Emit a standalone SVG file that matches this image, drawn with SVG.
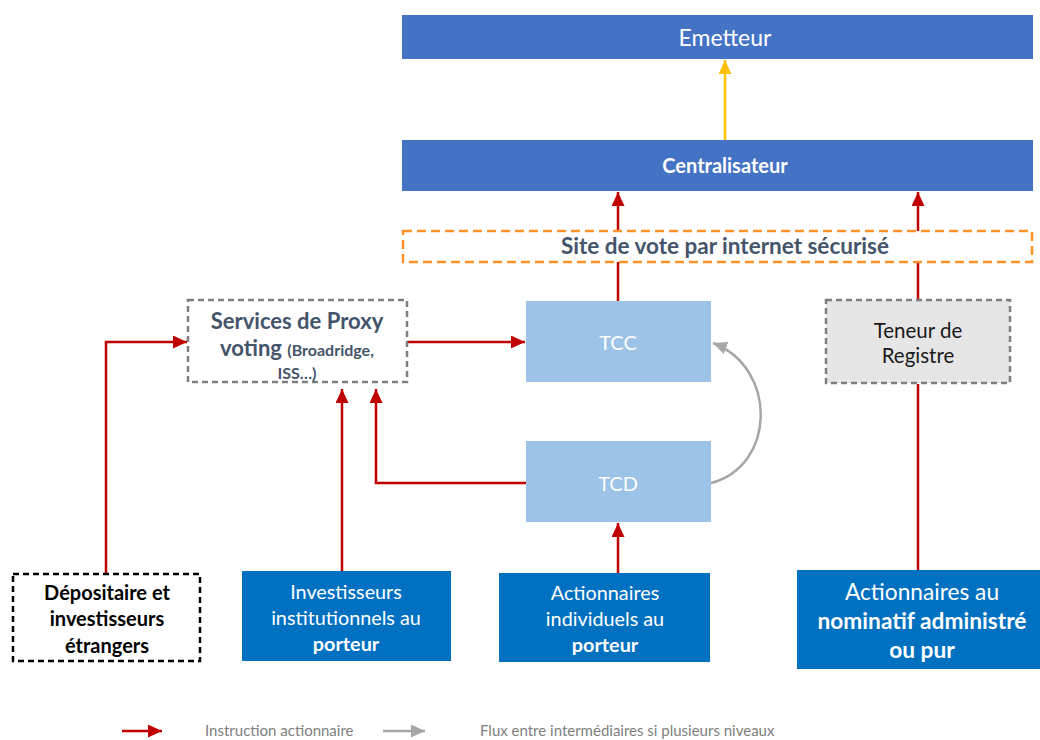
<svg xmlns="http://www.w3.org/2000/svg" width="1040" height="740" viewBox="0 0 1040 740">
<defs>
<style>
text{font-family:Lato,"Liberation Sans",sans-serif;text-anchor:middle}
.hdr{fill:#4472C4}
.tc{fill:#9DC3E6}
.inv{fill:#0070C0}
.w{fill:#ffffff}
.b{font-weight:bold}
.dk{fill:#44546A}
.red{stroke:#C00000;stroke-width:2.5;fill:none}
.gray{stroke:#A6A6A6;stroke-width:2.5;fill:none}
.yel{stroke:#FFC000;stroke-width:2.5;fill:none}
.leg{fill:#808080;font-size:15px;text-anchor:start}
</style>
<marker id="ar" markerUnits="userSpaceOnUse" markerWidth="14" markerHeight="13" refX="14" refY="6.5" orient="auto"><path d="M0,0 L14,6.5 L0,13 z" fill="#C00000"/></marker>
<marker id="ag" markerUnits="userSpaceOnUse" markerWidth="14" markerHeight="13" refX="14" refY="6.5" orient="auto"><path d="M0,0 L14,6.5 L0,13 z" fill="#A6A6A6"/></marker>
<marker id="ay" markerUnits="userSpaceOnUse" markerWidth="14" markerHeight="13" refX="14" refY="6.5" orient="auto"><path d="M0,0 L14,6.5 L0,13 z" fill="#FFC000"/></marker>
</defs>

<g id="connectors">
<path class="yel" d="M725,140 V60" marker-end="url(#ay)"/>
<path class="red" d="M618,301 V192" marker-end="url(#ar)"/>
<path class="red" d="M918,300 V192" marker-end="url(#ar)"/>
<path class="red" d="M407,342 H525" marker-end="url(#ar)"/>
<path class="red" d="M106,574 V342 H187" marker-end="url(#ar)"/>
<path class="red" d="M342,571 V389" marker-end="url(#ar)"/>
<path class="red" d="M526,483 H376 V389" marker-end="url(#ar)"/>
<path class="red" d="M618,573 V523" marker-end="url(#ar)"/>
<path class="red" d="M918,570 V384"/>
<path class="gray" d="M711,483 C776,466 778,368 713,343" marker-end="url(#ag)"/>
</g>

<g id="emetteur">
<rect class="hdr" x="402" y="15" width="631" height="44"/>
<text class="w" x="725" y="46" font-size="23">Emetteur</text>
</g>

<g id="centralisateur">
<rect class="hdr" x="402" y="140" width="631" height="51"/>
<text class="w b" x="725" y="173" font-size="20">Centralisateur</text>
</g>

<g id="site-vote">
<rect x="403" y="231" width="629" height="31" fill="#ffffff" stroke="#FF9328" stroke-width="2.5" stroke-dasharray="9,5"/>
<text class="dk b" x="725" y="254" font-size="22.5">Site de vote par internet sécurisé</text>
</g>

<g id="proxy">
<rect x="188" y="300" width="219" height="82" fill="#ffffff" stroke="#7F7F7F" stroke-width="2.5" stroke-dasharray="6,4"/>
<text class="dk b" x="297" y="329" font-size="22">Services de Proxy</text>
<text class="dk b" x="297" y="356" font-size="22">voting <tspan font-size="16">(Broadridge,</tspan></text>
<text class="dk b" x="297" y="379" font-size="16">ISS…)</text>
</g>

<g id="tcc">
<rect class="tc" x="526" y="301" width="185" height="81"/>
<text class="w" x="618" y="350" font-size="20">TCC</text>
</g>

<g id="tcd">
<rect class="tc" x="526" y="441" width="185" height="81"/>
<text class="w" x="618" y="491" font-size="20">TCD</text>
</g>

<g id="teneur">
<rect x="826" y="300" width="184" height="83" fill="#E7E6E6" stroke="#7F7F7F" stroke-width="2.5" stroke-dasharray="6,4"/>
<text x="918" y="338" font-size="20.5" fill="#1a1a1a">Teneur de</text>
<text x="918" y="363" font-size="20.5" fill="#1a1a1a">Registre</text>
</g>

<g id="depositaire">
<rect x="13" y="574" width="187" height="87" fill="#ffffff" stroke="#000000" stroke-width="2.5" stroke-dasharray="6,4"/>
<text class="b" x="107" y="600" font-size="20" fill="#000">Dépositaire et</text>
<text class="b" x="107" y="626" font-size="20" fill="#000">investisseurs</text>
<text class="b" x="107" y="653" font-size="20" fill="#000">étrangers</text>
</g>

<g id="investisseurs">
<rect class="inv" x="242" y="571" width="209" height="90"/>
<text class="w" x="346" y="599" font-size="19.8">Investisseurs</text>
<text class="w" x="346" y="625" font-size="19.8">institutionnels au</text>
<text class="w b" x="346" y="651" font-size="19.8">porteur</text>
</g>

<g id="individuels">
<rect class="inv" x="499" y="573" width="211" height="89"/>
<text class="w" x="605" y="600" font-size="19.8">Actionnaires</text>
<text class="w" x="605" y="626" font-size="19.8">individuels au</text>
<text class="w b" x="605" y="652" font-size="19.8">porteur</text>
</g>

<g id="nominatif">
<rect class="inv" x="797" y="570" width="250" height="99"/>
<text class="w" x="922" y="600" font-size="22.7">Actionnaires au</text>
<text class="w b" x="922" y="629" font-size="22.7">nominatif administré</text>
<text class="w b" x="922" y="658" font-size="22.7">ou pur</text>
</g>

<g id="legend">
<path class="red" d="M122,731 H162" marker-end="url(#ar)"/>
<text class="leg" x="205" y="736">Instruction actionnaire</text>
<path class="gray" d="M383,731 H425" marker-end="url(#ag)"/>
<text class="leg" x="480" y="736">Flux entre intermédiaires si plusieurs niveaux</text>
</g>
</svg>
